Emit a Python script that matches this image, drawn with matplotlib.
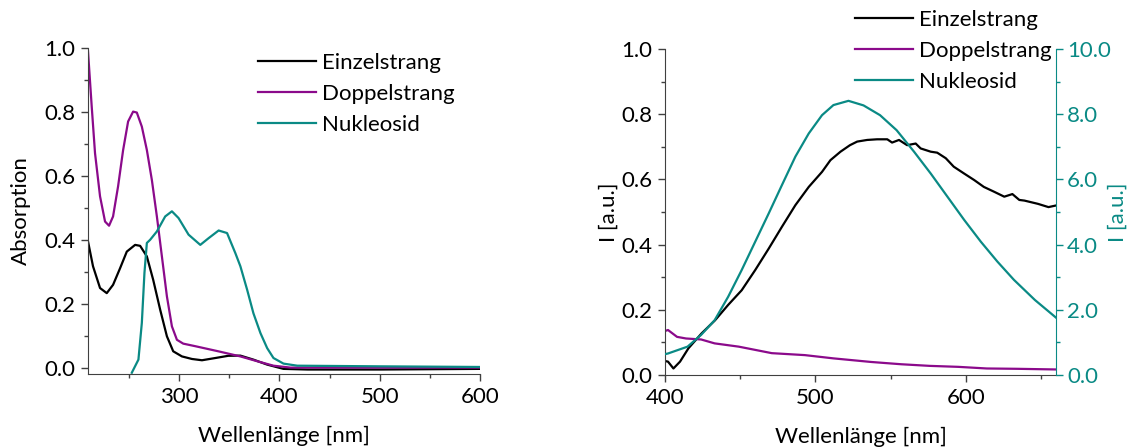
import matplotlib.pyplot as plt
from matplotlib.ticker import MultipleLocator, FormatStrFormatter

plt.rcParams['font.family'] = ['Lato', 'DejaVu Sans']
plt.rcParams['font.size'] = 16

BLACK = '#000000'
PURPLE = '#8b0a8b'
TEAL = '#0a8a85'
AXIS = '#404040'

# absorption spectra (left)
abs_ss_x = [209, 214, 221, 227.7, 234, 241, 247.7, 256, 261, 267.7, 274, 281, 287.7, 294, 302.7, 312.7,
            322.7, 336, 349, 361, 374, 387.7, 404, 428, 500, 600]
abs_ss_y = [0.395, 0.317, 0.249, 0.233, 0.259, 0.311, 0.363, 0.384, 0.381, 0.348, 0.275, 0.181, 0.098, 0.051,
            0.035, 0.027, 0.023, 0.030, 0.037, 0.0375, 0.025, 0.0094, -0.004, -0.006, -0.006, -0.004]

abs_ds_x = [209, 212.7, 216, 221, 226, 230, 234, 239, 244, 249, 254, 257.7, 262.7, 267.7, 272.7, 277.7,
            282.7, 287.7, 292.7, 297.7, 304, 316, 339, 361, 377.7, 394, 411, 600]
abs_ds_y = [0.99, 0.817, 0.671, 0.536, 0.457, 0.444, 0.473, 0.567, 0.68, 0.77, 0.801, 0.798, 0.754, 0.681,
            0.587, 0.473, 0.348, 0.223, 0.129, 0.087, 0.075, 0.067, 0.051, 0.035, 0.02, 0.006, 0.0, 0.0]

abs_nuc_x = [252.7, 259.3, 262.7, 265.3, 267.7, 271, 277.7, 286, 292.7, 299.3, 309.3, 321, 329.3, 339.3,
             347.7, 356, 361, 367.7, 374, 381, 387.7, 394, 404, 417.7, 500, 600]
abs_nuc_y = [-0.016, 0.025, 0.14, 0.296, 0.39, 0.40, 0.426, 0.473, 0.489, 0.468, 0.416, 0.384, 0.405, 0.429,
             0.421, 0.358, 0.317, 0.244, 0.17, 0.108, 0.061, 0.03, 0.0125, 0.006, 0.004, 0.002]

# emission spectra (right)
em_ss_x = [400, 402, 405.6, 410, 415.6, 424.4, 433.3, 442, 451, 460, 469, 477.8, 486.7, 495.6, 504.4, 510,
           516.7, 523, 527.8, 534.4, 541, 547.8, 551, 555.6, 561, 566.7, 570, 576.7, 581, 586.7, 592,
           598.9, 605.6, 612, 618.9, 625.6, 631, 635.6, 639, 648, 655, 660]
em_ss_y = [0.043, 0.041, 0.02, 0.041, 0.082, 0.128, 0.168, 0.215, 0.26, 0.322, 0.388, 0.455, 0.521, 0.577,
           0.623, 0.659, 0.685, 0.705, 0.716, 0.721, 0.723, 0.723, 0.713, 0.721, 0.705, 0.71, 0.695, 0.685,
           0.682, 0.665, 0.639, 0.618, 0.598, 0.577, 0.562, 0.547, 0.555, 0.537, 0.535, 0.525, 0.515, 0.52]

em_ds_x = [400, 402, 408, 414, 424, 433, 449, 471, 493, 512, 537, 557, 576, 595, 614, 634, 660]
em_ds_y = [0.135, 0.138, 0.117, 0.112, 0.109, 0.097, 0.087, 0.067, 0.061, 0.051, 0.04, 0.033, 0.028, 0.025,
           0.02, 0.019, 0.017]

em_nuc_x = [400, 402, 415, 424, 433, 442, 451, 460, 469, 477.8, 486.7, 495.6, 504.4, 512, 522, 532, 543,
            554, 565.6, 576.7, 587.8, 598.9, 610, 621, 632, 646, 660]
em_nuc_y = [0.64, 0.66, 0.87, 1.23, 1.68, 2.4, 3.22, 4.09, 4.96, 5.83, 6.7, 7.41, 7.97, 8.28, 8.41, 8.27,
            7.97, 7.51, 6.85, 6.18, 5.47, 4.76, 4.09, 3.48, 2.92, 2.3, 1.76]

labels = ['Einzelstrang', 'Doppelstrang', 'Nukleosid']

fig = plt.figure(figsize=(11.28, 4.48), dpi=100)
ax1 = fig.add_axes([88 / 1128, 74 / 448, 392 / 1128, 326 / 448])
ax2 = fig.add_axes([665 / 1128, 73 / 448, 391 / 1128, 326 / 448])
ax3 = ax2.twinx()

lw = 1.6
leg_kw = dict(loc='upper left', frameon=False, handlelength=2.6, handletextpad=0.3,
              labelspacing=0.5, borderpad=0, borderaxespad=0)

# left panel
a1, = ax1.plot(abs_ss_x, abs_ss_y, color=BLACK, lw=lw)
a2, = ax1.plot(abs_ds_x, abs_ds_y, color=PURPLE, lw=lw)
a3, = ax1.plot(abs_nuc_x, abs_nuc_y, color=TEAL, lw=lw)
ax1.set_xlim(209, 600)
ax1.set_ylim(-0.02, 1.0)
ax1.xaxis.set_major_locator(MultipleLocator(100))
ax1.xaxis.set_minor_locator(MultipleLocator(50))
ax1.yaxis.set_major_locator(MultipleLocator(0.2))
ax1.yaxis.set_minor_locator(MultipleLocator(0.1))
ax1.yaxis.set_major_formatter(FormatStrFormatter('%.1f'))
ax1.set_xlabel('Wellenlänge [nm]', labelpad=14)
ax1.set_ylabel('Absorption', labelpad=10)
fig.legend([a1, a2, a3], labels, bbox_to_anchor=(258 / 1128, 1 - 53 / 448),
           bbox_transform=fig.transFigure, **leg_kw)

# right panel
l1, = ax2.plot(em_ss_x, em_ss_y, color=BLACK, lw=lw)
l2, = ax2.plot(em_ds_x, em_ds_y, color=PURPLE, lw=lw)
l3, = ax3.plot(em_nuc_x, em_nuc_y, color=TEAL, lw=lw)
ax2.set_xlim(400, 660)
ax2.set_ylim(0, 1.0)
ax3.set_ylim(0, 10)
ax2.xaxis.set_major_locator(MultipleLocator(100))
ax2.xaxis.set_minor_locator(MultipleLocator(50))
ax2.yaxis.set_major_locator(MultipleLocator(0.2))
ax2.yaxis.set_minor_locator(MultipleLocator(0.1))
ax2.yaxis.set_major_formatter(FormatStrFormatter('%.1f'))
ax3.yaxis.set_major_locator(MultipleLocator(2))
ax3.yaxis.set_minor_locator(MultipleLocator(1))
ax3.yaxis.set_major_formatter(FormatStrFormatter('%.1f'))
ax2.set_xlabel('Wellenlänge [nm]', labelpad=14)
ax2.set_ylabel('I [a.u.]', labelpad=2)
ax3.set_ylabel('I [a.u.]', color=TEAL)
ax3.yaxis.set_label_coords(1.132, 0.5)
fig.legend([l1, l2, l3], labels, bbox_to_anchor=(855 / 1128, 1 - 10 / 448),
           bbox_transform=fig.transFigure, **leg_kw)

for ax in (ax1, ax2, ax3):
    ax.spines['top'].set_visible(False)
    for s in ax.spines.values():
        s.set_color(AXIS)
    ax.tick_params(which='major', direction='out', length=5, width=1, color=AXIS, pad=4)
    ax.tick_params(which='minor', direction='out', length=3, width=1, color=AXIS)
ax1.spines['right'].set_visible(False)
ax2.spines['right'].set_visible(False)
ax3.spines['left'].set_visible(False)
ax3.spines['bottom'].set_visible(False)
ax3.spines['right'].set_color(TEAL)
ax3.tick_params(axis='y', which='both', colors=TEAL, pad=3)

fig.savefig('out.png', dpi=100)
